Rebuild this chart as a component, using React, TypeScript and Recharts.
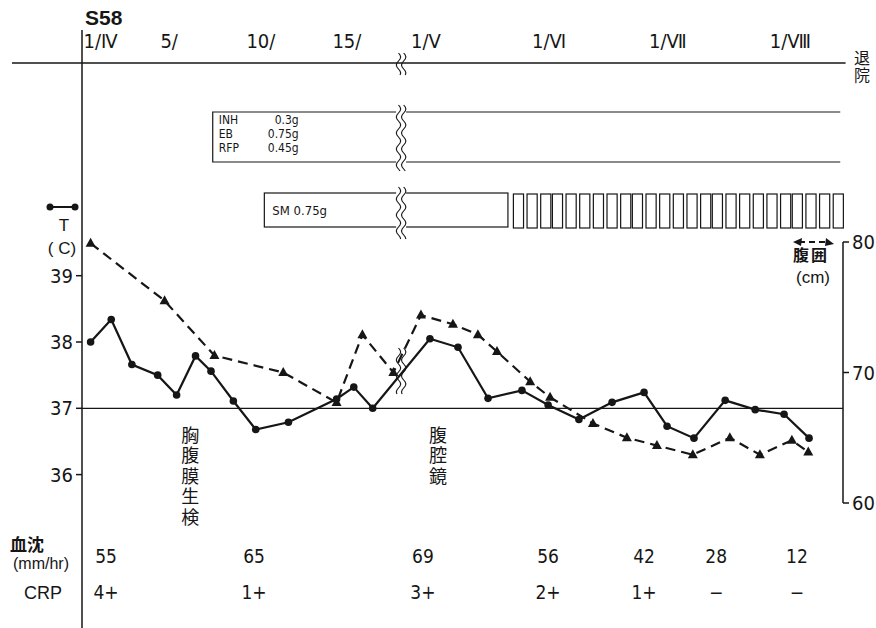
import React from 'react';
import { ComposedChart, Line, XAxis, YAxis, ReferenceLine, ReferenceArea, ReferenceDot } from 'recharts';

// day numbers counted from 1 April S58 (1/Ⅳ = 1, 1/Ⅴ = 31, 1/Ⅵ = 62, 1/Ⅶ = 92, 1/Ⅷ = 123)
const tempDays = [1.0, 2.2, 3.4, 4.9, 6.0, 7.1, 8.0, 9.3, 10.6, 12.5, 15.3, 16.3, 17.4, 36.1, 43.3, 51.0, 59.7, 66.4, 74.3, 82.8, 91.0, 96.9, 103.8, 111.8, 119.5, 126.9, 133.3];
const tempValues = [38.0, 38.34, 37.66, 37.5, 37.2, 37.79, 37.56, 37.11, 36.68, 36.79, 37.14, 37.32, 37.0, 38.05, 37.92, 37.15, 37.27, 37.05, 36.83, 37.09, 37.24, 36.73, 36.55, 37.12, 36.98, 36.91, 36.55];

const girthDays = [1.0, 5.3, 8.2, 12.2, 15.3, 16.8, 18.6, 33.8, 42.0, 48.4, 53.3, 61.8, 66.9, 77.9, 86.6, 94.3, 103.5, 113.0, 120.7, 128.9, 133.1];
const girthValues = [79.9, 75.5, 71.3, 70.0, 67.7, 72.9, 70.0, 74.4, 73.7, 72.9, 71.6, 69.3, 68.1, 66.1, 65.0, 64.4, 63.7, 65.0, 63.7, 64.8, 63.9];

const tickDays = [1, 5, 10, 15, 31, 62, 92, 123];
const tickLabels = ['1/Ⅳ', '5/', '10/', '15/', '1/Ⅴ', '1/Ⅵ', '1/Ⅶ', '1/Ⅷ'];

const labDays = [1.9, 10.5, 34.3, 66.4, 91.0, 109.5, 130.2];
const esrValues = ['55', '65', '69', '56', '42', '28', '12'];
const crpValues = ['4+', '1+', '3+', '2+', '1+', '−', '−'];

const drugNames = ['INH', 'EB', 'RFP'];
const drugDoses = ['0.3g', '0.75g', '0.45g'];
const inhRange = [8.1, 141.3];
const smRange = [11.1, 56.1];
const smShotDays = [57.5, 61, 64.5, 67.5, 71, 74.5, 78, 81.5, 85, 88, 91.5, 95, 98.5, 102, 105.5, 108.5, 112, 115.5, 119, 122.5, 126, 129, 132.5, 136, 139.5];
const biopsyDay = 6.8;
const laparoscopyDay = 38.2;

// broken time axis: April in full scale, from May on compressed
const RIGHT_RATIO = 3.9 / 17.2;
const U_MAY1 = 19.57;
const u = (t: number) => (t <= 20 ? t : U_MAY1 + (t - 31) * RIGHT_RATIO);
const U_MIN = 0.5;
const U_MAX = 44.74;
const BREAK_U = 19.05;
const pxU = (px: number) => U_MIN + (px - 82) / 17.2;

const PLOT_TOP = 63;
const PLOT_BOTTOM = 628;
const T_TOP = 37 + (408.3 - PLOT_TOP) / 66.3;
const T_BOT = 37 - (PLOT_BOTTOM - 408.3) / 66.3;
const C_TOP = 70 + (372.5 - PLOT_TOP) / 13.05;
const C_BOT = 70 - (PLOT_BOTTOM - 372.5) / 13.05;

const INK = '#161616';
const NARROW = "'Liberation Sans Narrow', 'DejaVu Sans Condensed', 'DejaVu Sans', sans-serif";
const SANS = "'Liberation Sans', 'DejaVu Sans', sans-serif";
const JP = "'Noto Sans CJK JP', 'Noto Sans CJK SC', sans-serif";

const tempData = tempDays.map((d, i) => ({ u: u(d), v: tempValues[i] }));
const girthData = girthDays.map((d, i) => ({ u: u(d), v: girthValues[i] }));

const wave = (x: number, y1: number, y2: number) => {
  let d = `M${x},${y1}`;
  for (let y = y1 + 2; y <= y2; y += 2) {
    d += ` L${(x + 2.2 * Math.sin(((y - y1) / 16) * 2 * Math.PI)).toFixed(2)},${y}`;
  }
  return d;
};

const Squiggle = (p: any) => {
  const cx = p.x + p.width / 2;
  return (
    <g>
      <rect x={cx - 5} y={p.y} width={10} height={p.height} fill="#fff" />
      <path d={wave(cx - 2.6, p.y, p.y + p.height)} fill="none" stroke={INK} strokeWidth={1.1} />
      <path d={wave(cx + 2.6, p.y, p.y + p.height)} fill="none" stroke={INK} strokeWidth={1.1} />
    </g>
  );
};

const InhBox = (p: any) => {
  const { x, y, width: w, height: h } = p;
  return (
    <g>
      <path d={`M${x + w},${y} H${x} V${y + h} H${x + w}`} fill="none" stroke={INK} strokeWidth={1.2} />
      {drugNames.map((n, i) => (
        <g key={n} fontFamily={NARROW} fontSize={12} fill={INK}>
          <text x={x + 6} y={y + 12 + i * 14}>{n}</text>
          <text x={x + 86} y={y + 12 + i * 14} textAnchor="end">{drugDoses[i]}</text>
        </g>
      ))}
    </g>
  );
};

const SmBox = (p: any) => (
  <g>
    <rect x={p.x} y={p.y} width={p.width} height={p.height} fill="none" stroke={INK} strokeWidth={1.2} />
    <text x={p.x + 8} y={p.y + p.height / 2 + 5} fontFamily={NARROW} fontSize={13} fill={INK}>SM 0.75g</text>
  </g>
);

const ShotBox = (p: any) => (
  <rect x={p.x} y={p.y} width={p.width} height={p.height} fill="none" stroke={INK} strokeWidth={1.2} />
);

const VText = (chars: string) => (p: any) => (
  <text
    x={p.cx}
    y={p.cy - 9}
    fontFamily={JP}
    fontSize={18}
    fill={INK}
    letterSpacing={2.5}
    style={{ writingMode: 'vertical-rl' }}
  >
    {chars}
  </text>
);

const CellText = (s: string) => (p: any) => (
  <text x={p.cx} y={p.cy + 7} textAnchor="middle" fontFamily={NARROW} fontSize={19} fill={INK}>{s}</text>
);

const TopTick = (p: any) => (
  <text x={p.x + (p.index === 0 ? -7 : 1)} y={48} textAnchor="start" fontFamily={NARROW} fontSize={20} fill={INK}>
    {tickLabels[p.index]}
  </text>
);

const Dot = (p: any) => <circle key={p.index} cx={p.cx} cy={p.cy} r={3.8} fill={INK} />;
const Tri = (p: any) => (
  <path key={p.index} d={`M${p.cx},${p.cy - 5.5} L${p.cx + 5},${p.cy + 3.5} L${p.cx - 5},${p.cy + 3.5} Z`} fill={INK} />
);

export default function App() {
  return (
    <div style={{ position: 'absolute', left: 0, top: 0, width: 876, height: 628, background: '#fff' }}>
      <ComposedChart width={876} height={628} margin={{ top: 30, right: 0, bottom: 0, left: 42 }}>
        <XAxis
          type="number"
          dataKey="u"
          orientation="top"
          domain={[U_MIN, U_MAX]}
          allowDataOverflow
          ticks={tickDays.map(u)}
          interval={0}
          tick={TopTick}
          tickLine={false}
          axisLine={false}
          height={33}
        />
        <YAxis yAxisId="px" hide width={0} type="number" domain={[PLOT_TOP, PLOT_BOTTOM]} reversed allowDataOverflow />
        <YAxis
          yAxisId="t"
          type="number"
          domain={[T_BOT, T_TOP]}
          allowDataOverflow
          ticks={[36, 37, 38, 39]}
          width={40}
          tickSize={6}
          tickMargin={3}
          axisLine={{ stroke: INK, strokeWidth: 1.5 }}
          tickLine={{ stroke: INK, strokeWidth: 1.5 }}
          tick={{ fill: INK, fontSize: 20, fontFamily: NARROW }}
        />
        <YAxis
          yAxisId="c"
          orientation="right"
          type="number"
          domain={[C_BOT, C_TOP]}
          allowDataOverflow
          ticks={[60, 70, 80]}
          width={33}
          tickSize={6}
          tickMargin={3}
          axisLine={false}
          tickLine={{ stroke: INK, strokeWidth: 1.5 }}
          tick={{ fill: INK, fontSize: 20, fontFamily: NARROW, textAnchor: 'start' }}
        />

        <ReferenceLine yAxisId="t" y={37} stroke={INK} strokeWidth={1.2} />
        <ReferenceLine yAxisId="c" ifOverflow="visible" stroke={INK} strokeWidth={1.5} segment={[{ x: U_MAX, y: 60 }, { x: U_MAX, y: 80 }]} />
        <ReferenceLine yAxisId="px" ifOverflow="visible" stroke={INK} strokeWidth={1.5} segment={[{ x: U_MIN, y: 30 }, { x: U_MIN, y: PLOT_TOP }]} />
        <ReferenceLine yAxisId="px" ifOverflow="visible" stroke={INK} strokeWidth={1.5} segment={[{ x: pxU(12), y: PLOT_TOP }, { x: U_MAX + 0.15, y: PLOT_TOP }]} />

        <ReferenceArea yAxisId="px" x1={u(inhRange[0])} x2={u(inhRange[1])} y1={112} y2={162} ifOverflow="visible" shape={InhBox} />
        <ReferenceArea yAxisId="px" x1={u(smRange[0])} x2={u(smRange[1])} y1={193} y2={227} ifOverflow="visible" shape={SmBox} />
        {smShotDays.map((d) => (
          <ReferenceArea key={d} yAxisId="px" x1={u(d)} x2={u(d + 2.6)} y1={194} y2={228} ifOverflow="visible" shape={ShotBox} />
        ))}

        <Line yAxisId="c" data={girthData} dataKey="v" type="linear" stroke={INK} strokeWidth={2.2} strokeDasharray="10 6" dot={Tri} isAnimationActive={false} />
        <Line yAxisId="t" data={tempData} dataKey="v" type="linear" stroke={INK} strokeWidth={2.2} dot={Dot} isAnimationActive={false} />

        <ReferenceArea yAxisId="px" x1={BREAK_U - 0.3} x2={BREAK_U + 0.3} y1={53} y2={75} ifOverflow="visible" shape={Squiggle} />
        <ReferenceArea yAxisId="px" x1={BREAK_U - 0.3} x2={BREAK_U + 0.3} y1={105} y2={172} ifOverflow="visible" shape={Squiggle} />
        <ReferenceArea yAxisId="px" x1={BREAK_U - 0.3} x2={BREAK_U + 0.3} y1={187} y2={240} ifOverflow="visible" shape={Squiggle} />
        <ReferenceArea yAxisId="px" x1={BREAK_U - 0.3} x2={BREAK_U + 0.3} y1={348} y2={395} ifOverflow="visible" shape={Squiggle} />

        <ReferenceDot yAxisId="px" x={u(biopsyDay)} y={435} ifOverflow="visible" shape={VText('胸腹膜生検')} />
        <ReferenceDot yAxisId="px" x={u(laparoscopyDay)} y={435} ifOverflow="visible" shape={VText('腹腔鏡')} />

        {labDays.map((d, i) => (
          <ReferenceDot key={'e' + i} yAxisId="px" x={u(d)} y={556} ifOverflow="visible" shape={CellText(esrValues[i])} />
        ))}
        {labDays.map((d, i) => (
          <ReferenceDot key={'c' + i} yAxisId="px" x={u(d)} y={592} ifOverflow="visible" shape={CellText(crpValues[i])} />
        ))}
      </ComposedChart>

      <svg width={876} height={628} style={{ position: 'absolute', left: 0, top: 0, pointerEvents: 'none' }}>
        <text x={85} y={25} fontFamily={SANS} fontWeight="bold" fontSize={21} fill={INK}>S58</text>
        <text x={862} y={50} fontFamily={JP} fontSize={16} letterSpacing={1} fill={INK} style={{ writingMode: 'vertical-rl' }}>退院</text>

        <line x1={50} y1={207} x2={75} y2={207} stroke={INK} strokeWidth={2} />
        <circle cx={50} cy={207} r={3.5} fill={INK} />
        <circle cx={75} cy={207} r={3.5} fill={INK} />
        <text x={64} y={231} textAnchor="middle" fontFamily={SANS} fontSize={17} fill={INK}>T</text>
        <text x={62} y={254} textAnchor="middle" fontFamily={SANS} fontSize={17} fill={INK}>( C)</text>

        <line x1={799} y1={242} x2={828} y2={242} stroke={INK} strokeWidth={2} strokeDasharray="6 4" />
        <path d="M793,242 L802,238 L801,246 Z" fill={INK} />
        <path d="M834,244 L826,238 L825,246 Z" fill={INK} />
        <text x={811} y={261} textAnchor="middle" fontFamily={JP} fontWeight="bold" fontSize={16} letterSpacing={2} fill={INK}>腹囲</text>
        <text x={813} y={283} textAnchor="middle" fontFamily={SANS} fontSize={17} fill={INK}>(cm)</text>

        <text textAnchor="middle" fill={INK}>
          <tspan x={27} y={551} fontFamily={JP} fontWeight="bold" fontSize={17}>血沈</tspan>
          <tspan x={41} y={569} fontFamily={SANS} fontSize={16}>(mm/hr)</tspan>
        </text>
        <text x={43} y={599} textAnchor="middle" fontFamily={SANS} fontSize={18} fill={INK}>CRP</text>
      </svg>
    </div>
  );
}
